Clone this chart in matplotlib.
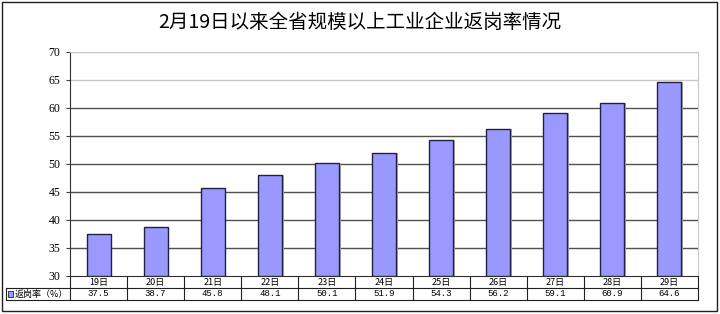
import matplotlib.pyplot as plt
from matplotlib.patches import Rectangle
from matplotlib.lines import Line2D

plt.rcParams["font.family"] = ["Noto Sans CJK SC", "DejaVu Sans"]

TITLE = "2月19日以来全省规模以上工业企业返岗率情况"
DAYS = ["19日", "20日", "21日", "22日", "23日", "24日", "25日", "26日", "27日", "28日", "29日"]
RATES = [37.5, 38.7, 45.8, 48.1, 50.1, 51.9, 54.3, 56.2, 59.1, 60.9, 64.6]
SERIES = "返岗率（%）"
YTICKS = [30, 35, 40, 45, 50, 55, 60, 65, 70]

W, H = 720, 314
fig = plt.figure(figsize=(7.2, 3.14), dpi=100)

# plot area in pixels: x 70..698, y 52..276
L, R, T, B = 70, 698, 52, 276
ax = fig.add_axes([L / W, 1 - B / H, (R - L) / W, (B - T) / H])

x = range(len(DAYS))
# thin grey shadow on the right of each bar
ax.bar([i + 0.03 for i in x], [v - 30 for v in RATES], bottom=30, width=0.42,
       color="#b0b0b0", zorder=2)
ax.bar(x, [v - 30 for v in RATES], bottom=30, width=0.42, color="#9999ff",
       edgecolor="#202040", linewidth=1.0, zorder=3)

ax.set_xlim(-0.5, len(DAYS) - 0.5)
ax.set_ylim(30, 70)
ax.set_yticks(YTICKS)
ax.set_yticklabels([str(t) for t in YTICKS], family="Liberation Serif", fontsize=8.5)
ax.set_xticks([])
ax.tick_params(axis="y", length=3, width=0.8, color="#404040", pad=4)
for t in YTICKS[1:]:
    ax.axhline(t, color="#c8c8c8" if t >= 65 else "#505050", lw=1.0, zorder=1)
for s in ["top", "right"]:
    ax.spines[s].set_color("#c8c8c8")
ax.spines["left"].set_color("#303030")
ax.spines["bottom"].set_color("#303030")

# data table below the axis, in axes fractions
def fy(py):
    return (B - py) / (B - T)

def fx(px):
    return (px - L) / (R - L)

tr = ax.transAxes
ytop, ymid, ybot = fy(276), fy(288), fy(300)
xl, xr = fx(6), 1.0
n = len(DAYS)
lines = [
    ([xl, xr], [ymid, ymid]),
    ([xl, xr], [ybot, ybot]),
    ([xl, xl], [ymid, ybot]),
    ([xr, xr], [ytop, ybot]),
]
for k in range(n):
    lines.append(([k / n, k / n], [ytop, ybot]))
for xs, ys in lines:
    ax.add_line(Line2D(xs, ys, transform=tr, color="#202020", lw=0.8, clip_on=False))

for k, (d, v) in enumerate(zip(DAYS, RATES)):
    xc = (k + 0.5) / n
    ax.text(xc, (ytop + ymid) / 2, d, transform=tr, ha="center", va="center",
            fontsize=6.5, clip_on=False)
    ax.text(xc, (ymid + ybot) / 2, f"{v:.1f}", transform=tr, ha="center",
            va="center", fontsize=6.5, family="Liberation Mono", clip_on=False)

ax.add_patch(Rectangle((fx(8), fy(297)), fx(13) - fx(8), fy(291) - fy(297),
                       transform=tr, facecolor="#9999ff", edgecolor="#202040",
                       lw=0.6, clip_on=False))
ax.text(fx(15), (ymid + ybot) / 2, SERIES, transform=tr, ha="left", va="center",
        fontsize=6.5, clip_on=False)

fig.text(0.5, 1 - 22 / H, TITLE, ha="center", va="center", fontsize=14)

# outer frame
fig.add_artist(Rectangle((2 / W, 1 - 311 / H), 715 / W, 309 / H,
                         transform=fig.transFigure, fill=False,
                         edgecolor="#202020", lw=1.0))

fig.savefig("out.png", dpi=100)
